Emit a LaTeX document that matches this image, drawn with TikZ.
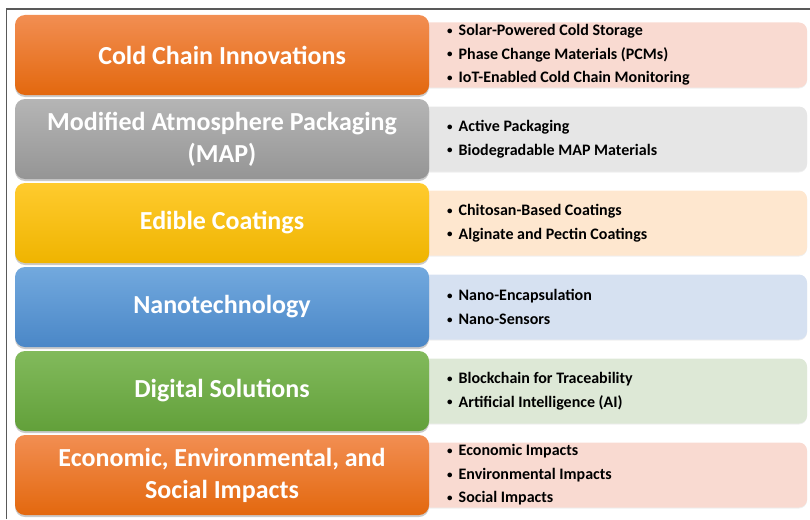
\documentclass[tikz,border=0pt]{standalone}
\usepackage{fontspec}
\setmainfont{Carlito}
\usetikzlibrary{positioning,shadows}
% box colours: dark top / dark bottom / pale panel
\definecolor{orTop}{HTML}{F28E52}
\definecolor{orBot}{HTML}{E3680E}
\definecolor{orPale}{HTML}{F9DAD1}
\definecolor{grTop}{HTML}{B5B5B5}
\definecolor{grBot}{HTML}{959595}
\definecolor{grPale}{HTML}{E6E6E6}
\definecolor{yeTop}{HTML}{FFCB2E}
\definecolor{yeBot}{HTML}{EFB400}
\definecolor{yePale}{HTML}{FEE7CF}
\definecolor{blTop}{HTML}{72A9DE}
\definecolor{blBot}{HTML}{4A87C7}
\definecolor{blPale}{HTML}{D6E1F1}
\definecolor{gnTop}{HTML}{82BA5C}
\definecolor{gnBot}{HTML}{62A03A}
\definecolor{gnPale}{HTML}{DDE8D6}
\tikzset{
  frameline/.style={draw=black!65,line width=1.4pt},
  topic/.style={rectangle,rounded corners=10pt,minimum width=414pt,minimum height=80pt,
    inner sep=0pt,align=center,text=white,
    font=\fontsize{26}{32}\selectfont\bfseries,
    drop shadow={shadow xshift=0pt,shadow yshift=-2pt,opacity=0.35,fill=black!60}},
  panel/.style={rectangle,rounded corners=8pt,minimum width=387pt,minimum height=65pt,
    inner sep=0pt,
    drop shadow={shadow xshift=0pt,shadow yshift=-1pt,opacity=0.12}},
  items/.style={anchor=west,align=left,inner sep=0pt,text=black,
    font=\fontsize{16}{23.5}\selectfont\bfseries},
}
% small bullet in front of each item
\newcommand{\bul}{\raisebox{1.3pt}{\fontsize{11}{11}\selectfont\textbullet}\hspace{6pt}}

\begin{document}
\begin{tikzpicture}[x=1pt,y=-1pt]
\useasboundingbox (0,0) rectangle (810,519);
% --- outer frame (left and top) ---
\draw[frameline] (6.5,519) -- (6.5,9) -- (810,9);
% --- rows: panel behind, coloured topic box in front ---
\foreach \i/\c/\t/\l in {
  0/or/{Cold Chain Innovations}/{\bul Solar-Powered Cold Storage\\\bul Phase Change Materials (PCMs)\\\bul IoT-Enabled Cold Chain Monitoring},
  1/gr/{Modified Atmosphere Packaging\\(MAP)}/{\bul Active Packaging\\\bul Biodegradable MAP Materials},
  2/ye/{Edible Coatings}/{\bul Chitosan-Based Coatings\\\bul Alginate and Pectin Coatings},
  3/bl/{Nanotechnology}/{\bul Nano-Encapsulation\\\bul Nano-Sensors},
  4/gn/{Digital Solutions}/{\bul Blockchain for Traceability\\\bul Artificial Intelligence (AI)},
  5/or/{Economic, Environmental, and\\Social Impacts}/{\bul Economic Impacts\\\bul Environmental Impacts\\\bul Social Impacts}}{
  \node[panel,fill=\c Pale] (P\i) at (613.5,55+84*\i) {};
  \node[topic,top color=\c Top,bottom color=\c Bot] (T\i) at (222,55+84*\i) {\t};
  \node[items] (L\i) at (447,55+84*\i) {\l};
}
\end{tikzpicture}
\end{document}
